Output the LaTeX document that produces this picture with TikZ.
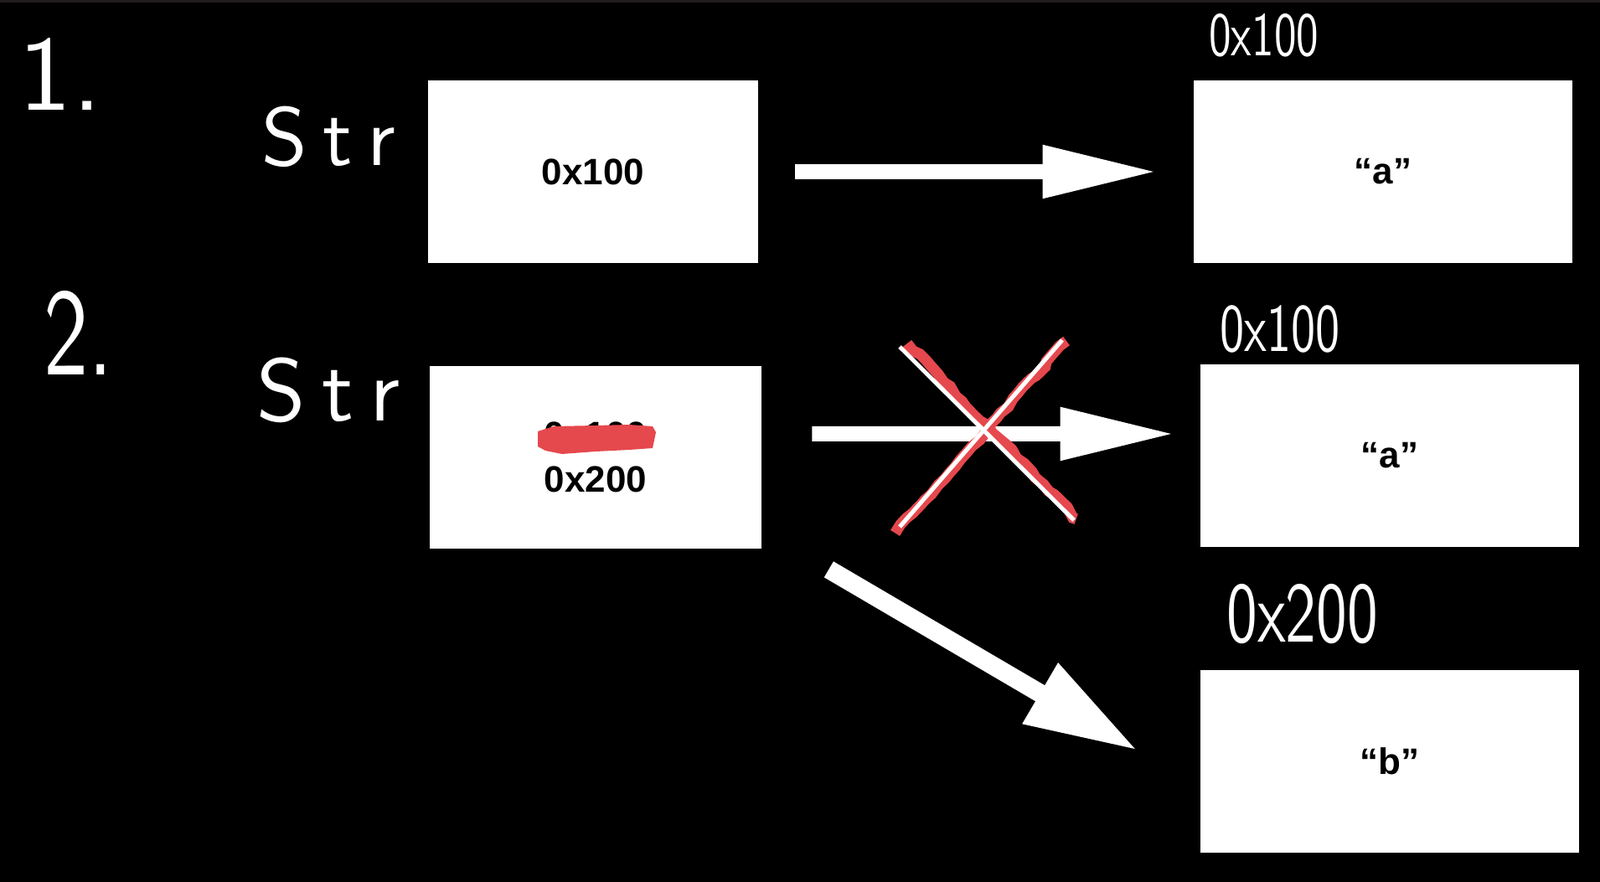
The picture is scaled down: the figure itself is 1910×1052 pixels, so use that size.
\documentclass[tikz,border=0pt]{standalone}
\usepackage{fontspec}
\newfontfamily\boxfont{Liberation Sans}
\newfontfamily\handnum{lmsans10-regular.otf}
\newfontfamily\handhex{lmsans10-regular.otf}[FakeStretch=0.72]
\newfontfamily\handstr{lmsans10-regular.otf}[LetterSpace=18]
\usepackage{tikz}
\usetikzlibrary{arrows.meta, positioning, decorations.pathmorphing}
\definecolor{scribred}{RGB}{229,72,77}
\definecolor{topedge}{RGB}{35,28,28}
\tikzset{
  membox/.style={fill=white, draw=none, inner sep=0pt, minimum height=2.18cm,
      minimum width=#1, align=center, font=\boxfont\bfseries\fontsize{12.5}{15}\selectfont},
  handlbl/.style={text=white, inner sep=0pt},
  bigarrow/.style={-{Triangle[length=1.37cm, width=0.59cm]}, line width=0.18cm, white},
  slantarrow/.style={-{Triangle[length=1.35cm, width=0.78cm]}, line width=0.22cm, white},
  scribble/.style={scribred, line width=0.13cm, line cap=butt,
      decorate, decoration={random steps, segment length=3pt, amplitude=0.7pt}},
  crossline/.style={white, line width=0.05cm},
}

\begin{document}
\begin{tikzpicture}[x=0.01cm, y=-0.01cm]
  % === canvas ===
  \useasboundingbox (0,0) rectangle (1910,1052);
  \fill[black] (-10,-10) rectangle (1920,1062);
  \fill[topedge] (-10,-10) rectangle (1920,3);

  % === Case 1: str points to "a" ===
  \node[handlbl, font=\handnum\fontsize{36}{36}\selectfont, anchor=base west] (num1) at (22,132) {1.};
  \node[handlbl, font=\handstr\fontsize{28}{28}\selectfont, anchor=base west] (str1) at (312,198) {Str};
  \node[membox=3.93cm] (ptr1) at (708,205) {0x100};
  \node[membox=4.51cm] (obj1) at (1651,205) {“a”};
  \node[handlbl, font=\handhex\fontsize{21}{21}\selectfont, above right=0.26cm and 0.18cm of obj1.north west] (addr1) {0x100};

  \draw[bigarrow, shorten <=0.44cm, shorten >=0.43cm] (ptr1) -- (obj1);

  % === Case 2: str reassigned to "b" ===
  \node[handlbl, font=\handhex\fontsize{42}{42}\selectfont, anchor=base west] (num2) at (52,447) {2.};
  \node[handlbl, font=\handstr\fontsize{30}{30}\selectfont, anchor=base west] (str2) at (306,502) {Str};
  \node[membox=3.95cm] (ptr2) at (711,546) {0x100\\0x200};
  \node[membox=4.51cm] (obj2) at (1659,544) {“a”};
  \node[handlbl, font=\handhex\fontsize{23}{23}\selectfont, above right=0.12cm and 0.23cm of obj2.north west] (addr2) {0x100};
  \node[membox=4.51cm] (obj3) at (1659,909) {“b”};
  \node[handlbl, font=\handhex\fontsize{29}{29}\selectfont, above right=0.30cm and 0.31cm of obj3.north west] (addr3) {0x200};

  % old address scribbled out
  \begin{scope}[shift={(ptr2.center)}]
    \fill[scribred] (-69,-31) -- (-50,-37) -- (0,-38) -- (40,-39) -- (68,-37) -- (72,-30)
      -- (68,-11) -- (40,-9) -- (0,-7) -- (-40,-4) -- (-60,-8) -- (-69,-13) -- cycle;
  \end{scope}

  \draw[bigarrow, shorten <=0.6cm, shorten >=0.3cm] ([yshift=0.28cm]ptr2.east) -- ([yshift=0.26cm]obj2.west);

  % crossed-out link
  \draw[scribble] (1083,410) -- (1285,620);
  \draw[scribble] (1273,407) -- (1068,637);
  \draw[crossline] (1074,414) -- (1282,621);
  \draw[crossline] (1268,406) -- (1074,629);

  \draw[slantarrow] ([xshift=0.8cm, yshift=-0.24cm]ptr2.south east) -- ([xshift=-0.745cm, yshift=0.13cm]obj3.west);
\end{tikzpicture}
\end{document}
